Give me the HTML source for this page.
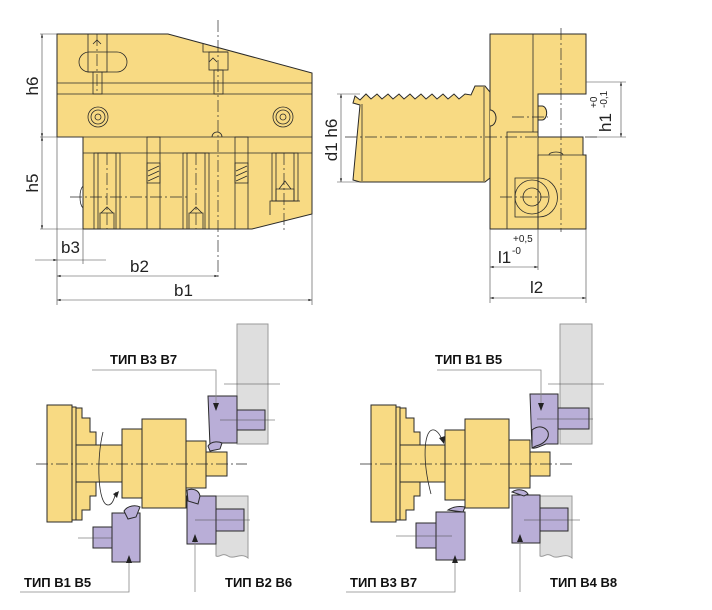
<!DOCTYPE html>
<html><head><meta charset="utf-8"><style>
html,body{margin:0;padding:0;background:#fff}
svg{display:block}
text{font-family:"Liberation Sans",Arial,sans-serif}
.y{fill:#F8DA83;stroke:#2a2a2a;stroke-width:1}
.p{fill:#B9AED7;stroke:#2a2a2a;stroke-width:1}
.g{fill:#DEDEDE;stroke:#999;stroke-width:1}
.l{stroke:#2a2a2a;stroke-width:0.8;fill:none}
.c{stroke:#2a2a2a;stroke-width:0.7;fill:none;stroke-dasharray:12 3 2 3}
.d{stroke:#444;stroke-width:0.6;fill:none}
.lead{stroke:#888;stroke-width:0.8;fill:none}
.lab{font-size:13px;font-weight:bold;fill:#111}
.dim{font-size:17px;fill:#222}
</style></head><body>
<svg width="712" height="610" viewBox="0 0 712 610" xmlns="http://www.w3.org/2000/svg">
<defs>
<marker id="a" viewBox="0 0 10 10" refX="10" refY="5" markerWidth="9" markerHeight="6" orient="auto-start-reverse"><path d="M0,2 L10,5 L0,8 z" fill="#222"/></marker>
</defs>

<!-- ===== Top-left block ===== -->
<polygon class="y" points="57,34 168,34 312,73 312,214 252,229 83,229 83,137 57,137"/>
<line class="l" x1="57" y1="83" x2="312" y2="83"/>
<line class="l" x1="57" y1="94" x2="312" y2="94"/>
<line class="l" x1="83" y1="137" x2="312" y2="137"/>
<line class="l" x1="83" y1="153" x2="312" y2="153"/>
<polyline class="l" points="203,44 203,52 228,52"/>
<rect class="l" x="79" y="52" width="48" height="20" rx="10"/>
<rect class="l" x="88" y="34" width="19" height="38"/>
<rect class="l" x="93" y="72" width="9" height="22"/>
<rect class="l" x="209" y="52" width="19" height="18"/>
<rect class="l" x="214" y="70" width="9" height="24"/>
<path class="l" d="M93,44 l4,-4 l4,4 M209,62 l4,-4 l4,4"/>
<circle class="l" cx="98" cy="117" r="10"/><circle class="l" cx="98" cy="117" r="7"/><circle class="l" cx="98" cy="117" r="3"/>
<circle class="l" cx="283" cy="117" r="10"/><circle class="l" cx="283" cy="117" r="7"/><circle class="l" cx="283" cy="117" r="3"/>
<path class="l" d="M212,137 a5,5 0 0 1 10,0"/>
<path class="l" d="M83,186 a5,12 0 0 0 0,22"/>
<rect class="l" x="94" y="153" width="26" height="76"/><rect class="l" x="98" y="153" width="18" height="76"/>
<rect class="l" x="183" y="153" width="26" height="76"/><rect class="l" x="187" y="153" width="18" height="76"/>
<rect class="l" x="272" y="153" width="26" height="48"/><rect class="l" x="276" y="153" width="18" height="48"/>
<path class="l" d="M100,229 v-16 h14 v16 M101,213 l6,-6 l6,6 M189,229 v-16 h14 v16 M190,213 l6,-6 l6,6 M276,201 v-12 h18 v12 M279,189 l6,-8 l6,8 M270,215 v-14 h30"/>
<rect class="l" x="147" y="137" width="13" height="92"/><rect class="l" x="147" y="163" width="13" height="20"/>
<path class="l" d="M148,176 l11,-5 M148,181 l11,-5 M148,171 l11,-5"/>
<rect class="l" x="235" y="137" width="13" height="92"/><rect class="l" x="235" y="163" width="13" height="20"/>
<path class="l" d="M236,176 l11,-5 M236,181 l11,-5 M236,171 l11,-5"/>
<line class="c" x1="218" y1="20" x2="218" y2="278"/>
<line class="c" x1="97" y1="34" x2="97" y2="94"/>
<line class="c" x1="70" y1="197" x2="190" y2="197"/>
<line class="c" x1="107" y1="153" x2="107" y2="229"/>
<line class="c" x1="196" y1="153" x2="196" y2="229"/>
<line class="c" x1="284" y1="153" x2="284" y2="232"/>
<!-- dims -->
<line class="d" x1="40" y1="34" x2="57" y2="34"/>
<line class="d" x1="40" y1="137" x2="83" y2="137"/>
<line class="d" x1="40" y1="229" x2="83" y2="229"/>
<line class="d" x1="42" y1="34" x2="42" y2="137" marker-start="url(#a)" marker-end="url(#a)"/>
<line class="d" x1="42" y1="137" x2="42" y2="229" marker-start="url(#a)" marker-end="url(#a)"/>
<text class="dim" transform="translate(38,86) rotate(-90)" text-anchor="middle">h6</text>
<text class="dim" transform="translate(38,183) rotate(-90)" text-anchor="middle">h5</text>
<line class="d" x1="57" y1="137" x2="57" y2="305"/>
<line class="d" x1="83" y1="229" x2="83" y2="264"/>
<line class="d" x1="312" y1="214" x2="312" y2="305"/>
<line class="d" x1="35" y1="260" x2="57" y2="260" marker-end="url(#a)"/>
<line class="d" x1="57" y1="260" x2="106" y2="260"/>
<text class="dim" x="61" y="253">b3</text>
<line class="d" x1="57" y1="276" x2="218" y2="276" marker-start="url(#a)" marker-end="url(#a)"/>
<text class="dim" x="130" y="272">b2</text>
<line class="d" x1="57" y1="300" x2="312" y2="300" marker-start="url(#a)" marker-end="url(#a)"/>
<text class="dim" x="174" y="296">b1</text>

<!-- ===== Top-right side view ===== -->
<path class="y" d="M490,34 H586 V94 H538 V137 H583 V155 H586 V229 H490 Z"/>
<line class="l" x1="533" y1="34" x2="533" y2="132"/>
<polyline class="l" points="538,94 538,137"/>
<rect class="l" x="507" y="132" width="31" height="97"/>
<line class="l" x1="538" y1="155" x2="538" y2="229"/>
<line class="l" x1="538" y1="155" x2="583" y2="155"/>
<path class="l" d="M549,155 a7,3 0 0 1 14,0"/>
<path class="y" d="M538,106 h4 a4,6 0 0 1 0,14 h-4 z"/>
<path class="l" d="M515,178 h24 a18,19 0 0 1 0,39 h-24 z"/>
<circle class="l" cx="532" cy="197" r="17"/>
<circle class="l" cx="532" cy="197" r="9"/>
<path class="y" d="M360,105 L353,103 L355,96 L360,100 L366,94 L371,99 L377,94 L382,99 L388,94 L393,99 L399,94 L404,99 L410,94 L415,99 L421,94 L426,99 L432,94 L437,99 L443,94 L448,99 L454,94 L459,99 L465,94 L471,95 L475,86 L485,86 L490,92 L490,178 L485,182 L360,182 L353,180 Z"/>
<line class="l" x1="362" y1="104" x2="362" y2="181"/>
<line class="l" x1="484" y1="87" x2="484" y2="181"/>
<path class="y" d="M490,110 a6,8 0 0 1 0,16"/>
<line class="c" x1="345" y1="137" x2="600" y2="137"/>
<line class="c" x1="561" y1="28" x2="561" y2="232"/>
<line class="c" x1="512" y1="117" x2="548" y2="117"/>
<line class="c" x1="500" y1="197" x2="548" y2="197"/>
<!-- dims -->
<line class="d" x1="337" y1="94" x2="360" y2="94"/>
<line class="d" x1="337" y1="182" x2="360" y2="182"/>
<line class="d" x1="341" y1="94" x2="341" y2="182" marker-start="url(#a)" marker-end="url(#a)"/>
<text class="dim" transform="translate(337,140) rotate(-90)" text-anchor="middle">d1 h6</text>
<line class="d" x1="586" y1="82" x2="626" y2="82"/>
<line class="d" x1="590" y1="137" x2="626" y2="137"/>
<line class="d" x1="621" y1="82" x2="621" y2="137" marker-start="url(#a)" marker-end="url(#a)"/>
<text transform="translate(611,132) rotate(-90)"><tspan class="dim">h1</tspan></text>
<text transform="translate(597,108) rotate(-90)" style="font-size:10px;fill:#222">+0</text>
<text transform="translate(607,108) rotate(-90)" style="font-size:10px;fill:#222">-0,1</text>
<line class="d" x1="490" y1="229" x2="490" y2="303"/>
<line class="d" x1="538" y1="229" x2="538" y2="270"/>
<line class="d" x1="586" y1="229" x2="586" y2="303"/>
<line class="d" x1="490" y1="267" x2="538" y2="267" marker-start="url(#a)" marker-end="url(#a)"/>
<text class="dim" x="498" y="263">l1</text>
<text x="512" y="254" style="font-size:10px;fill:#222">-0</text>
<text x="513" y="242" style="font-size:10px;fill:#222">+0,5</text>
<line class="d" x1="490" y1="298" x2="586" y2="298" marker-start="url(#a)" marker-end="url(#a)"/>
<text class="dim" x="530" y="293">l2</text>

<!-- ===== Bottom-left diagram ===== -->
<g>
<rect class="g" x="237" y="324" width="31" height="120"/>
<path class="g" d="M216,496 H248 V558 C240,552 234,560 228,556 C222,552 220,558 216,556 Z"/>
<rect class="y" x="47" y="405" width="25" height="117"/>
<rect class="y" x="72" y="407" width="4" height="113"/>
<path class="y" d="M76,408 H82 V418 H90 V432 H96 V445 H76 Z"/>
<path class="y" d="M76,520 H82 V510 H90 V496 H96 V482 H76 Z"/>
<rect class="y" x="76" y="445" width="46" height="37"/>
<rect class="y" x="122" y="429" width="20" height="69"/>
<rect class="y" x="142" y="419" width="44" height="89"/>
<rect class="y" x="186" y="441" width="20" height="47"/>
<rect class="y" x="206" y="452" width="21" height="24"/>
<path class="l" d="M103,432 C96,460 98,505 108,505 C112,505 114,500 116,492" />
<path d="M113,494 l6,-3 l-2,7 z" fill="#222"/>
<line class="c" x1="36" y1="464" x2="247" y2="464"/>
<rect class="p" x="237" y="410" width="28" height="20"/>
<path class="p" d="M208,396 H237 V443 H222 C218,446 214,448 210,446 Z"/>
<path class="p" d="M208,446 c4,-6 12,-4 14,-3 l-2,6 l-10,2 z"/>
<rect class="p" x="216" y="509" width="28" height="22"/>
<path class="p" d="M187,496 H216 V544 H187 Z"/>
<path class="p" d="M187,490 c6,-2 12,0 13,6 l-2,8 l-10,-3 z"/>
<rect class="p" x="93" y="527" width="19" height="21"/>
<path class="p" d="M112,513 H140 V562 H112 Z"/>
<path class="p" d="M124,511 c4,-6 12,-6 16,-4 l-4,10 l-8,2 z"/>
<line class="d" x1="224" y1="384" x2="280" y2="384"/>
<line class="d" x1="220" y1="420" x2="275" y2="420"/>
<line class="d" x1="195" y1="520" x2="250" y2="520"/>
<line class="d" x1="78" y1="538" x2="112" y2="538"/>
<polyline class="lead" points="92,370 216,370 216,410"/>
<path d="M213,403 l3,8 l3,-8 z" fill="#222"/>
<polyline class="lead" points="20,592 129,592 129,556"/>
<path d="M126,563 l3,-8 l3,8 z" fill="#222"/>
<polyline class="lead" points="195,592 195,535"/>
<path d="M192,542 l3,-8 l3,8 z" fill="#222"/>
<text class="lab" x="110" y="364">ТИП В3 В7</text>
<text class="lab" x="24" y="587">ТИП В1 В5</text>
<text class="lab" x="225" y="587">ТИП В2 В6</text>
</g>

<!-- ===== Bottom-right diagram ===== -->
<g>
<rect class="g" x="560" y="324" width="32" height="120"/>
<path class="g" d="M540,496 H572 V558 C564,552 558,560 552,556 C546,552 544,558 540,556 Z"/>
<rect class="y" x="371" y="405" width="25" height="117"/>
<rect class="y" x="396" y="407" width="4" height="113"/>
<path class="y" d="M400,408 H406 V418 H414 V432 H420 V445 H400 Z"/>
<path class="y" d="M400,520 H406 V510 H414 V496 H420 V482 H400 Z"/>
<rect class="y" x="400" y="445" width="45" height="37"/>
<rect class="y" x="445" y="430" width="20" height="70"/>
<rect class="y" x="465" y="419" width="44" height="89"/>
<rect class="y" x="509" y="440" width="21" height="48"/>
<rect class="y" x="530" y="452" width="20" height="24"/>
<path class="l" d="M431,494 C422,460 424,432 432,430 C436,429 440,434 442,440"/>
<path d="M439,438 l5,6 l1,-8 z" fill="#222"/>
<line class="c" x1="360" y1="464" x2="572" y2="464"/>
<rect class="p" x="558" y="408" width="31" height="21"/>
<path class="p" d="M530,394 H558 V444 H546 C540,446 536,449 532,448 Z"/>
<path class="p" d="M532,430 c8,-6 14,-2 16,2 c2,6 -4,12 -12,14 l-4,2 z"/>
<rect class="p" x="540" y="508" width="28" height="23"/>
<path class="p" d="M512,495 H540 V543 H512 Z"/>
<path class="p" d="M512,492 c6,-4 14,-2 16,2 l-4,2 z"/>
<rect class="p" x="416" y="523" width="20" height="25"/>
<path class="p" d="M436,512 H465 V560 H436 Z"/>
<path class="p" d="M448,510 c6,-4 12,-4 17,-3 l-2,5 z"/>
<line class="d" x1="548" y1="384" x2="604" y2="384"/>
<line class="d" x1="537" y1="419" x2="593" y2="419"/>
<line class="d" x1="524" y1="520" x2="580" y2="520"/>
<line class="d" x1="396" y1="536" x2="452" y2="536"/>
<polyline class="lead" points="437,370 541,370 541,410"/>
<path d="M538,403 l3,8 l3,-8 z" fill="#222"/>
<polyline class="lead" points="346,592 455,592 455,556"/>
<path d="M452,563 l3,-8 l3,8 z" fill="#222"/>
<polyline class="lead" points="520,592 520,535"/>
<path d="M517,542 l3,-8 l3,8 z" fill="#222"/>
<text class="lab" x="435" y="364">ТИП В1 В5</text>
<text class="lab" x="350" y="587">ТИП В3 В7</text>
<text class="lab" x="550" y="587">ТИП В4 В8</text>
</g>
</svg>
</body></html>
